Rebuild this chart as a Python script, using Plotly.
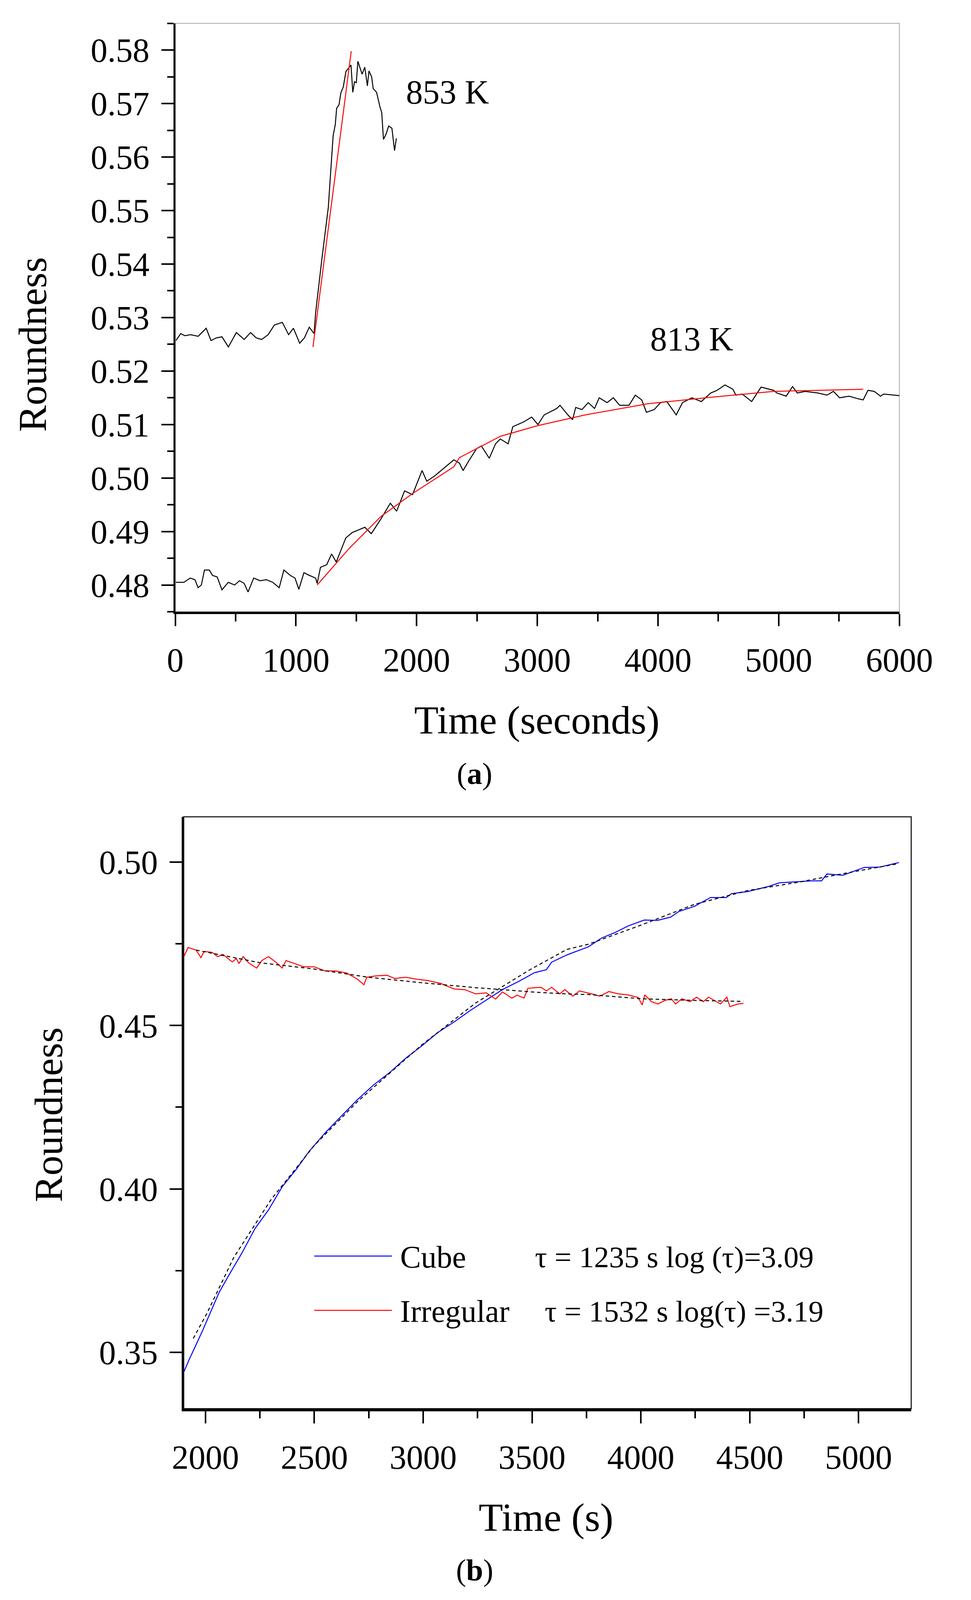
import plotly.graph_objects as go

# ---- panel (a): roundness vs time at two temperatures ----
t853 = [6, 45, 80, 125, 190, 256, 296, 340, 387, 440, 506, 571, 624, 670, 716, 770, 821, 887, 939, 979,
        1031, 1070, 1110, 1150, 1163, 1215, 1268, 1308, 1326, 1337, 1357, 1372, 1392, 1414, 1456, 1471,
        1485, 1500, 1513, 1548, 1570, 1592, 1605, 1627, 1640, 1668, 1697, 1711, 1725, 1747, 1768, 1795,
        1817, 1832]
r853 = [0.5257, 0.5270, 0.5266, 0.5268, 0.5265, 0.5280, 0.5257, 0.5262, 0.5264, 0.5245, 0.5272, 0.5259,
        0.5272, 0.5262, 0.5259, 0.5268, 0.5286, 0.5291, 0.5268, 0.5280, 0.5252, 0.5262, 0.5282, 0.5270,
        0.5309, 0.5410, 0.5506, 0.5640, 0.5661, 0.5691, 0.5698, 0.5720, 0.5731, 0.5760, 0.5772, 0.5721,
        0.5741, 0.5739, 0.5779, 0.5755, 0.5768, 0.5733, 0.5761, 0.5750, 0.5728, 0.5721, 0.5693, 0.5683,
        0.5633, 0.5643, 0.5658, 0.5654, 0.5612, 0.5635]
t853_fit = [1141, 1300, 1458]
r853_fit = [0.5245, 0.5521, 0.5798]

t813 = [5, 71, 124, 163, 189, 216, 242, 282, 308, 347, 387, 439, 492, 532, 571, 603, 650, 703, 755, 808,
        861, 900, 953, 992, 1024, 1066, 1111, 1163, 1176, 1203, 1255, 1295, 1334, 1413, 1466, 1518, 1571,
        1624, 1703, 1782, 1834, 1900, 1966, 2045, 2084, 2150, 2229, 2308, 2354, 2385, 2432, 2497, 2536,
        2602, 2654, 2693, 2758, 2797, 2888, 2953, 3005, 3057, 3161, 3188, 3253, 3292, 3318, 3370, 3422,
        3474, 3513, 3578, 3630, 3682, 3760, 3812, 3865, 3904, 3969, 4021, 4073, 4151, 4203, 4281, 4359,
        4437, 4490, 4555, 4620, 4646, 4698, 4776, 4854, 4958, 4984, 5062, 5115, 5154, 5219, 5323, 5401,
        5453, 5505, 5583, 5661, 5700, 5740, 5792, 5844, 5870, 6000]
r813 = [0.4805, 0.4805, 0.4813, 0.4810, 0.4795, 0.4800, 0.4828, 0.4828, 0.4818, 0.4815, 0.4791, 0.4805,
        0.4800, 0.4808, 0.4803, 0.4787, 0.4813, 0.4808, 0.4810, 0.4805, 0.4795, 0.4828, 0.4818, 0.4813,
        0.4792, 0.4823, 0.4818, 0.4813, 0.4803, 0.4833, 0.4838, 0.4858, 0.4843, 0.4888, 0.4898, 0.4903,
        0.4908, 0.4896, 0.4923, 0.4953, 0.4938, 0.4976, 0.4969, 0.5014, 0.4994, 0.5004, 0.5019, 0.5034,
        0.5028, 0.5014, 0.5032, 0.5055, 0.5060, 0.5037, 0.5064, 0.5073, 0.5064, 0.5096, 0.5105, 0.5114,
        0.5100, 0.5118, 0.5130, 0.5136, 0.5118, 0.5109, 0.5132, 0.5128, 0.5141, 0.5130, 0.5150, 0.5141,
        0.5150, 0.5136, 0.5136, 0.5155, 0.5146, 0.5123, 0.5128, 0.5141, 0.5143, 0.5118, 0.5141, 0.5150,
        0.5143, 0.5159, 0.5164, 0.5174, 0.5166, 0.5155, 0.5157, 0.5143, 0.5170, 0.5164, 0.5159, 0.5153,
        0.5171, 0.5159, 0.5162, 0.5159, 0.5155, 0.5162, 0.5150, 0.5153, 0.5148, 0.5146, 0.5164, 0.5162,
        0.5153, 0.5157, 0.5154]
t813_fit = [1176, 1439, 1703, 1966, 2308, 2354, 2693, 3005, 3396, 3917, 4437, 4958, 5700]
r813_fit = [0.4800, 0.4868, 0.4928, 0.4971, 0.5021, 0.5038, 0.5078, 0.5098, 0.5118, 0.5139, 0.5151,
            0.5162, 0.5166]

# ---- panel (b): cube vs irregular ----
t_cube = [1901, 1926, 1957, 1988, 2025, 2062, 2105, 2167, 2228, 2290, 2352, 2414, 2475, 2549, 2623, 2698,
          2772, 2846, 2920, 2994, 3068, 3142, 3216, 3290, 3364, 3438, 3512, 3566, 3590, 3663, 3759, 3820,
          3882, 3942, 4016, 4076, 4137, 4174, 4246, 4320, 4392, 4417, 4490, 4587, 4636, 4733, 4782, 4830,
          4855, 4928, 4977, 5026, 5098, 5147, 5185]
r_cube = [0.3440, 0.3479, 0.3523, 0.3568, 0.3625, 0.3682, 0.3733, 0.3803, 0.3879, 0.3936, 0.4006, 0.4057,
          0.4114, 0.4171, 0.4222, 0.4273, 0.4318, 0.4356, 0.4400, 0.4438, 0.4479, 0.4511, 0.4546, 0.4578,
          0.4610, 0.4635, 0.4662, 0.4671, 0.4694, 0.4717, 0.4741, 0.4768, 0.4785, 0.4805, 0.4823, 0.4822,
          0.4832, 0.4849, 0.4865, 0.4892, 0.4892, 0.4904, 0.4910, 0.4926, 0.4937, 0.4941, 0.4943, 0.4943,
          0.4964, 0.4960, 0.4972, 0.4984, 0.4985, 0.4993, 0.4999]
t_cube_fit = [1944, 2006, 2130, 2302, 2500, 2698, 2994, 3241, 3488, 3660, 3759, 4003, 4246, 4490, 4733,
              4977, 5185]
r_cube_fit = [0.3542, 0.3618, 0.3790, 0.3968, 0.4133, 0.4267, 0.4441, 0.4569, 0.4670, 0.4733, 0.4749,
              0.4808, 0.4871, 0.4913, 0.4940, 0.4971, 0.4996]

t_irr = [1901, 1920, 1957, 1979, 1994, 2031, 2056, 2080, 2123, 2142, 2154, 2173, 2198, 2235, 2259, 2290,
         2327, 2352, 2370, 2401, 2451, 2500, 2549, 2599, 2648, 2698, 2728, 2741, 2784, 2833, 2870, 2920,
         2969, 3019, 3080, 3142, 3191, 3241, 3290, 3333, 3364, 3407, 3432, 3463, 3481, 3512, 3542, 3566,
         3590, 3627, 3651, 3688, 3718, 3774, 3811, 3853, 3896, 3939, 3988, 4006, 4018, 4049, 4079, 4110,
         4140, 4159, 4189, 4226, 4256, 4287, 4311, 4366, 4395, 4409, 4446, 4471]
r_irr = [0.4711, 0.4739, 0.4731, 0.4708, 0.4727, 0.4724, 0.4711, 0.4718, 0.4695, 0.4705, 0.4690, 0.4711,
         0.4692, 0.4676, 0.4699, 0.4711, 0.4692, 0.4676, 0.4699, 0.4692, 0.4680, 0.4680, 0.4667, 0.4667,
         0.4661, 0.4642, 0.4625, 0.4648, 0.4652, 0.4654, 0.4644, 0.4648, 0.4642, 0.4638, 0.4629, 0.4612,
         0.4610, 0.4597, 0.4600, 0.4581, 0.4603, 0.4584, 0.4593, 0.4584, 0.4614, 0.4616, 0.4617, 0.4606,
         0.4617, 0.4597, 0.4610, 0.4590, 0.4606, 0.4597, 0.4590, 0.4604, 0.4597, 0.4594, 0.4586, 0.4563,
         0.4594, 0.4573, 0.4566, 0.4577, 0.4582, 0.4566, 0.4582, 0.4573, 0.4587, 0.4573, 0.4587, 0.4566,
         0.4587, 0.4558, 0.4566, 0.4568]
t_irr_fit = [1957, 2253, 2500, 2747, 2994, 3241, 3364, 3517, 3660, 3759, 4003, 4246, 4471]
r_irr_fit = [0.4731, 0.4692, 0.4673, 0.4648, 0.4631, 0.4616, 0.4610, 0.4602, 0.4597, 0.4595, 0.4582,
             0.4577, 0.4574]

W, H = 2485, 4179
FONT = "Liberation Serif"
# the page is shown a little enlarged and shifted by the body margin,
# so target pixel positions are mapped back to css pixels here
S = 1.021
OFF = 8


def px(x):
    return (x / S - OFF) / W


def py(y):
    return 1 - (y / S - OFF) / H


def fs(size):
    return round(size / S)


fig = go.Figure()

fig.add_trace(go.Scatter(x=t853, y=r853, mode="lines", line=dict(color="black", width=2.5),
                         xaxis="x", yaxis="y", name="853 K"))
fig.add_trace(go.Scatter(x=t853_fit, y=r853_fit, mode="lines", line=dict(color="#ff0000", width=2.5),
                         xaxis="x", yaxis="y", name="853 K fit"))
fig.add_trace(go.Scatter(x=t813, y=r813, mode="lines", line=dict(color="black", width=2.5),
                         xaxis="x", yaxis="y", name="813 K"))
fig.add_trace(go.Scatter(x=t813_fit, y=r813_fit, mode="lines", line=dict(color="#ff0000", width=2.5),
                         xaxis="x", yaxis="y", name="813 K fit"))

fig.add_trace(go.Scatter(x=t_cube, y=r_cube, mode="lines", line=dict(color="#0000ff", width=2.5),
                         xaxis="x2", yaxis="y2", name="Cube"))
fig.add_trace(go.Scatter(x=t_irr, y=r_irr, mode="lines", line=dict(color="#ff0000", width=2.5),
                         xaxis="x2", yaxis="y2", name="Irregular"))
fig.add_trace(go.Scatter(x=t_cube_fit, y=r_cube_fit, mode="lines",
                         line=dict(color="black", width=2.5, dash="9px,7px"),
                         xaxis="x2", yaxis="y2", name="Cube fit"))
fig.add_trace(go.Scatter(x=t_irr_fit, y=r_irr_fit, mode="lines",
                         line=dict(color="black", width=2.5, dash="9px,7px"),
                         xaxis="x2", yaxis="y2", name="Irregular fit"))

tickfont = dict(family=FONT, size=fs(88), color="black")
common = dict(showgrid=False, zeroline=False, ticks="outside", ticklen=31, tickwidth=4,
              tickcolor="black", linecolor="black", showline=True, tickfont=tickfont,
              automargin=False, ticklabelstandoff=13)

fig.update_layout(
    width=W, height=H,
    margin=dict(l=0, r=0, t=0, b=0),
    paper_bgcolor="white", plot_bgcolor="white",
    showlegend=False,
    font=dict(family=FONT, color="black"),
    xaxis=dict(domain=[px(458), px(2350)], anchor="y", range=[0, 6000], dtick=1000, linewidth=6,
               minor=dict(dtick=500, ticks="outside", ticklen=19, tickwidth=4, tickcolor="black"),
               **common),
    yaxis=dict(domain=[py(1599), py(61)], anchor="x", range=[0.475, 0.585], dtick=0.01,
               tickformat=".2f", linewidth=5,
               minor=dict(dtick=0.005, ticks="outside", ticklen=16, tickwidth=4, tickcolor="black"),
               **common),
    xaxis2=dict(domain=[px(480), px(2381)], anchor="y2", range=[1900, 5242], dtick=500, linewidth=7,
                minor=dict(dtick=250, ticks="outside", ticklen=18, tickwidth=4, tickcolor="black"),
                **common),
    yaxis2=dict(domain=[py(3682), py(2135)], anchor="x2", range=[0.3327, 0.5139], dtick=0.05,
                tickformat=".2f", linewidth=5,
                minor=dict(dtick=0.025, ticks="outside", ticklen=16, tickwidth=4, tickcolor="black"),
                **common),
)

# frames: thin gray box for (a), thin black box for (b)
fig.add_shape(type="rect", xref="x domain", yref="y domain", x0=0, x1=1, y0=0, y1=1,
              line=dict(color="#a8a8a8", width=2), layer="below")
fig.add_shape(type="rect", xref="x2 domain", yref="y2 domain", x0=0, x1=1, y0=0, y1=1,
              line=dict(color="#222222", width=3), layer="below")

# legend of panel (b)
fig.add_shape(type="line", xref="paper", yref="paper", x0=px(821), x1=px(1024), y0=py(3283), y1=py(3283),
              line=dict(color="#0000ff", width=2.5))
fig.add_shape(type="line", xref="paper", yref="paper", x0=px(821), x1=px(1024), y0=py(3425), y1=py(3425),
              line=dict(color="#ff0000", width=2.5))

notes = [
    dict(x=2255, y=0.5721, text="853 K"),
    dict(x=4281, y=0.5260, text="813 K"),
]
for n in notes:
    fig.add_annotation(x=n["x"], y=n["y"], xref="x", yref="y", text=n["text"],
                       showarrow=False, font=dict(family=FONT, size=fs(88), color="black"))

labels = [
    (85, 900, "Roundness", -90, 104, "center"),
    (1403, 1882, "Time (seconds)", 0, 104, "center"),
    (1240, 2022, "(<b>a</b>)", 0, 80, "center"),
    (127, 2913, "Roundness", -90, 104, "center"),
    (1427, 3966, "Time (s)", 0, 104, "center"),
    (1240, 4104, "(<b>b</b>)", 0, 80, "center"),
    (1043, 3286, "Cube", 0, 82, "left"),
    (1396, 3286, "τ = 1235 s log (τ)=3.09", 0, 79, "left"),
    (1043, 3428, "Irregular", 0, 82, "left"),
    (1421, 3428, "τ = 1532 s log(τ) =3.19", 0, 79, "left"),
]
for x, y, text, ang, size, anchor in labels:
    fig.add_annotation(x=px(x), y=py(y), xref="paper", yref="paper", text=text, textangle=ang,
                       showarrow=False, xanchor=anchor, yanchor="middle",
                       font=dict(family=FONT, size=fs(size), color="black"))

fig.write_html("out.html")
